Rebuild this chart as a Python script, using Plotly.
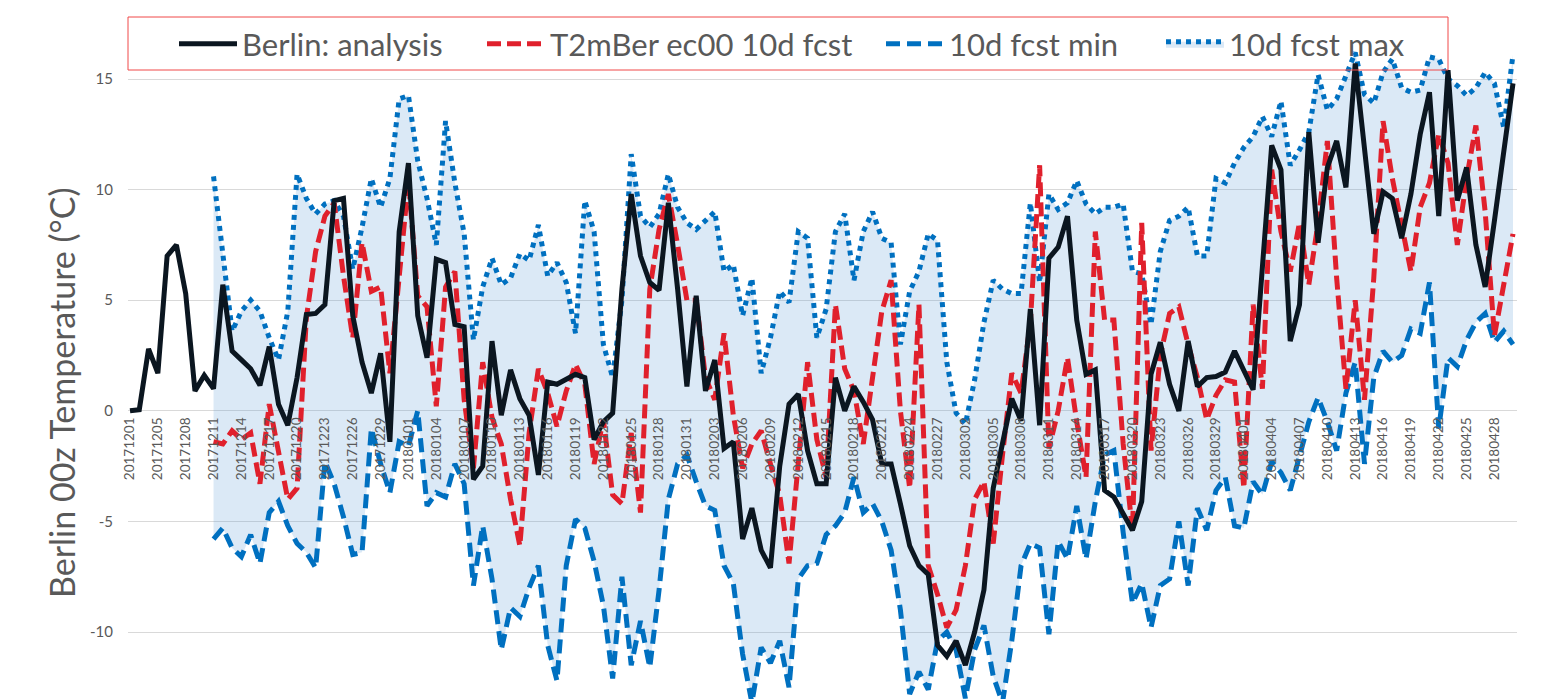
import pandas as pd
import plotly.graph_objects as go

# ---------------- data ----------------
dates = pd.date_range("2017-12-01", "2018-04-30", freq="D")
dates = dates.drop(pd.Timestamp("2017-12-03"))
categories = [d.strftime("%Y%m%d") for d in dates]   # 150 categories
fcst_start = 9                                         # forecasts start at 20171211

analysis = [
    0.0, 0.05, 2.8, 1.7, 7.0, 7.5, 5.3, 0.9, 1.6, 1.0,
    5.7, 2.7, 2.3, 1.9, 1.15, 2.9, 0.3, -0.65, 1.5, 4.35,
    4.4, 4.8, 9.5, 9.6, 4.3, 2.2, 0.8, 2.6, -1.4, 8.1,
    11.2, 4.3, 2.4, 6.85, 6.7, 3.9, 3.8, -3.1, -2.5, 3.15,
    -0.2, 1.85, 0.55, -0.2, -2.9, 1.3, 1.2, 1.45, 1.65, 1.5,
    -1.3, -0.5, -0.1, 5.5, 9.8, 7.0, 5.8, 5.45, 9.4, 5.5,
    1.1, 5.2, 0.9, 2.3, -1.7, -1.4, -5.8, -4.4, -6.3, -7.1,
    -2.5, 0.3, 0.75, -1.8, -3.3, -3.3, 1.5, 0.0, 1.1, 0.4,
    -0.4, -2.4, -2.4, -4.2, -6.1, -7.0, -7.4, -10.6, -11.1, -10.4,
    -11.5, -10.0, -8.1, -3.5, -1.5, 0.55, -0.45, 4.6, -0.65, 6.9,
    7.4, 8.8, 4.1, 1.65, 1.85, -3.6, -3.9, -4.6, -5.4, -4.1,
    1.65, 3.1, 1.2, 0.0, 3.15, 1.1, 1.5, 1.55, 1.75, 2.7,
    1.85, 0.95, 6.5, 12.0, 10.9, 3.15, 4.8, 12.6, 7.6, 11.0,
    12.2, 10.1, 15.7, 11.9, 8.0, 9.9, 9.6, 7.8, 9.8, 12.5,
    14.4, 8.8, 15.4, 9.5, 11.0, 7.5, 5.6, 8.6, 11.7, 14.8,
]

fcst = [
    -1.4, -1.5, -0.9, -1.3, -1.0, -3.3, 0.3, -1.8, -4.0, -3.5,
    4.2, 7.2, 8.8, 9.4, 6.1, 3.3, 7.6, 5.4, 5.6, 1.7,
    5.8, 10.4, 5.2, 4.7, 0.2, 5.6, 6.3, 0.5, -2.6, 2.2,
    -0.3, -1.5, -4.0, -6.1, -1.0, 1.9, 0.8, -0.7, 0.9, 2.1,
    1.2, -2.4, -0.4, -3.8, -4.2, -1.0, -4.6, 5.5, 8.2, 9.8,
    7.5, 5.0, 5.0, 1.5, 0.5, 3.5, -0.2, -2.6, -1.5, -0.9,
    -2.4, -3.8, -6.9, -2.6, 2.2, -1.3, -3.0, 4.8, 1.9, 0.9,
    -1.5, 1.5, 4.5, 5.9, 0.0, -3.5, 4.8, -7.0, -8.3, -9.8,
    -9.0, -7.0, -4.0, -3.2, -6.0, -2.0, 1.7, 0.8, 4.0, 11.1,
    -1.7, 0.0, 2.4, -0.5, -3.0, 8.1, 4.1, 4.1, -1.5, -5.4,
    8.5, -1.8, 2.5, 4.4, 4.7, 3.0, 1.5, -0.4, 0.7, 1.4,
    1.3, -3.5, 4.8, 1.0, 10.9, 8.1, 6.3, 8.5, 5.7, 8.5,
    12.2, 6.0, 1.0, 5.0, 0.5, 6.0, 13.1, 10.5, 8.3, 6.3,
    9.2, 10.3, 12.5, 11.2, 7.5, 10.5, 12.9, 9.0, 3.4, 5.8,
    8.0,
]

fcst_min = [
    -5.8, -5.3, -6.2, -6.6, -5.6, -6.9, -4.6, -4.1, -5.2, -6.0,
    -6.4, -7.1, -2.3, -3.3, -4.8, -6.5, -6.4, -0.8, -2.4, -3.7,
    -1.4, -1.6, 0.0, -4.3, -3.7, -3.9, -2.4, -3.3, -7.9, -5.2,
    -7.6, -10.8, -8.9, -9.3, -8.0, -7.0, -10.6, -12.2, -7.0, -4.9,
    -5.3, -6.8, -8.8, -12.1, -7.5, -11.5, -9.5, -11.6, -8.1, -4.0,
    -2.4, -2.0, -3.2, -4.3, -4.5, -7.0, -7.8, -11.0, -13.2, -10.7,
    -11.4, -10.4, -12.5, -7.6, -7.0, -6.9, -5.6, -5.2, -4.6, -3.0,
    -4.6, -4.2, -5.0, -6.3, -9.0, -12.8, -11.8, -12.6, -10.4, -10.0,
    -10.8, -13.0, -10.8, -9.7, -12.0, -13.2, -10.4, -7.0, -6.0, -6.2,
    -10.1, -5.9, -6.7, -4.3, -6.7, -4.1, -2.0, -1.8, -5.5, -8.7,
    -7.8, -9.8, -7.9, -7.6, -5.0, -7.9, -4.4, -5.4, -3.6, -3.0,
    -5.2, -5.3, -3.2, -3.8, -2.3, -2.8, -3.6, -2.0, -0.5, 0.6,
    -0.5, -1.8, 0.8, 2.2, -2.4, 1.5, 2.7, 2.2, 2.5, 3.7,
    3.5, 5.8, -0.8, 2.4, 2.0, 3.2, 4.0, 4.4, 3.1, 3.6,
    3.0,
]

fcst_max = [
    10.6, 7.2, 3.6, 4.5, 5.0, 4.5, 3.3, 2.3, 4.5, 10.7,
    9.6, 8.9, 9.35, 9.5, 8.8, 6.4, 8.3, 10.5, 9.2, 10.5,
    14.1, 14.25, 11.3, 9.6, 7.5, 13.1, 10.3, 8.0, 3.2, 5.6,
    6.9, 5.7, 6.0, 7.1, 6.8, 8.4, 6.1, 6.7, 5.8, 3.5,
    9.5, 8.1, 3.0, 1.5, 5.0, 11.6, 8.8, 8.3, 8.9, 10.7,
    9.2, 8.5, 8.2, 8.6, 9.0, 6.3, 6.6, 4.3, 6.0, 1.7,
    3.3, 5.4, 4.9, 8.1, 7.8, 3.3, 4.6, 8.1, 8.9, 5.9,
    8.1, 9.0, 7.8, 7.6, 3.0, 5.4, 6.3, 8.0, 7.7, 2.2,
    -0.1, -0.6, 1.4, 4.0, 5.9, 5.5, 5.3, 5.3, 9.4, 5.8,
    9.8, 9.1, 9.4, 10.4, 9.35, 8.9, 9.2, 9.2, 9.35, 6.3,
    6.2, 3.9, 7.2, 8.6, 8.8, 9.2, 7.0, 7.0, 10.5, 10.3,
    11.2, 11.9, 12.4, 13.3, 12.4, 14.0, 11.1, 11.8, 12.6, 15.2,
    13.6, 14.1, 15.2, 16.2, 14.3, 13.9, 15.3, 15.9, 14.6, 14.4,
    14.5, 16.0, 15.9, 15.0, 14.7, 14.25, 14.6, 15.3, 14.8, 12.8,
    16.1,
]

series_names = ["Berlin: analysis", "T2mBer ec00 10d fcst", "10d fcst min", "10d fcst max"]
y_tickvals = [-10, -5, 0, 5, 10, 15]
y_ticktext = ["-10", "-5", "0", "5", "10", "15"]
y_title = "Berlin 00z Temperature (°C)"

# ---------------- figure ----------------
# The page body has an 8 px margin, so figure coordinates are page coordinates - 8.
W, H = 1542, 699
ML, MR = 120, 33                  # plot area: page x 128 .. 1517
PW = W - ML - MR
FONT = "Lato"
GREY = "#595959"
BLUE = "#0070c0"
RED = "#e0202c"
BLACK = "#0b1620"
LW = 5


def px(fx):   # figure x pixel -> paper fraction
    return (fx - ML) / PW


def py(fy):   # figure y pixel -> paper fraction
    return 1 - fy / H


fx = categories[fcst_start:]
fig = go.Figure()

fig.add_trace(go.Scatter(
    x=fx, y=fcst_min, name=series_names[2], mode="lines", legend="legend3",
    line=dict(color=BLUE, width=LW, dash="14px,7px")))
fig.add_trace(go.Scatter(
    x=fx, y=fcst_max, name=series_names[3], mode="lines", legend="legend4",
    line=dict(color=BLUE, width=LW, dash="5px,5px"),
    fill="tonexty", fillcolor="rgba(91,155,213,0.22)"))
fig.add_trace(go.Scatter(
    x=fx, y=fcst, name=series_names[1], mode="lines", legend="legend2",
    line=dict(color=RED, width=LW, dash="14px,6px")))
fig.add_trace(go.Scatter(
    x=categories, y=analysis, name=series_names[0], mode="lines", legend="legend",
    line=dict(color=BLACK, width=LW)))

# y scale: 22.12 px per degree, value 15 at page y 79 (figure y 71)
ppd = 22.12
ymax = 15 + 71 / ppd
ymin = ymax - H / ppd
zero_pos = (0 - ymin) / (ymax - ymin)


def leg(x_fig):
    return dict(
        orientation="h", xref="paper", yref="paper",
        x=px(x_fig), xanchor="left", y=py(36), yanchor="middle",
        bgcolor="rgba(0,0,0,0)", borderwidth=0,
        font=dict(size=31, color=GREY, family=FONT), itemwidth=58,
    )


fig.update_layout(
    width=W, height=H,
    margin=dict(l=ML, r=MR, t=0, b=0, autoexpand=False),
    paper_bgcolor="white", plot_bgcolor="white",
    font=dict(family=FONT, color=GREY),
    showlegend=True,
    legend=leg(166), legend2=leg(474), legend3=leg(873), legend4=leg(1153),
    xaxis=dict(
        type="category", categoryorder="array", categoryarray=categories,
        range=[-0.215, 149.43],
        tickmode="array", tickvals=categories[::3], ticktext=categories[::3],
        tickangle=-90, tickfont=dict(size=13.5, color=GREY, family=FONT),
        showgrid=False, zeroline=False, showline=False, ticks="",
        anchor="free", position=zero_pos, ticklabelstandoff=3,
        automargin=False,
    ),
    yaxis=dict(
        range=[ymin, ymax], tickmode="array", tickvals=y_tickvals, ticktext=y_ticktext,
        tickfont=dict(size=15, color=GREY, family=FONT),
        showgrid=True, gridcolor="#d9d9d9", gridwidth=1,
        zeroline=False, showline=False, ticks="", ticklabelstandoff=14,
        automargin=False,
    ),
    annotations=[dict(
        text=y_title, textangle=-90, showarrow=False,
        xref="paper", yref="paper", x=px(54), y=py(385),
        xanchor="center", yanchor="middle",
        font=dict(size=34, color=GREY, family=FONT),
    )],
    shapes=[
        dict(type="rect", xref="paper", yref="paper",
             x0=px(120), x1=px(1440), y0=py(62), y1=py(9),
             line=dict(color="#f04848", width=1), fillcolor="rgba(0,0,0,0)", layer="above"),
        dict(type="line", xref="paper", yref="paper",
             x0=px(1529), x1=px(1529), y0=0, y1=1,
             line=dict(color="#d9d9d9", width=2)),
    ],
)

fig.write_html("out.html")
